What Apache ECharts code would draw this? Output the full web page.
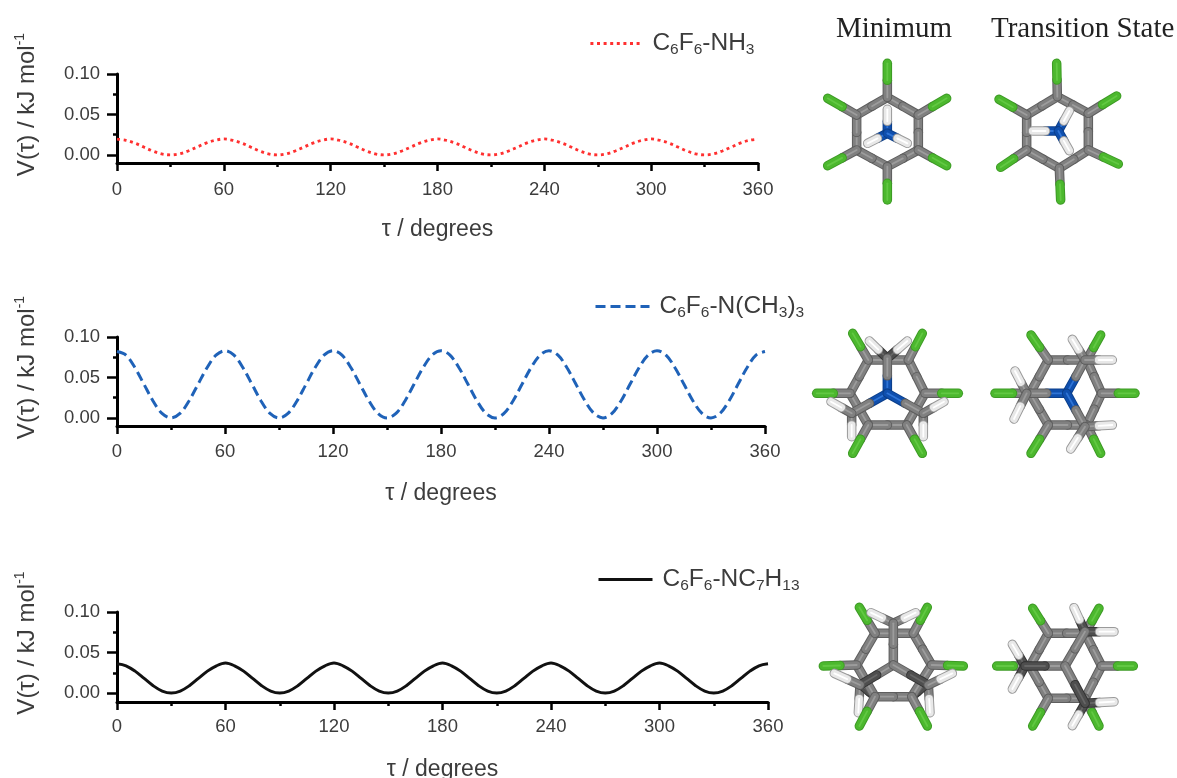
<!DOCTYPE html>
<html><head><meta charset="utf-8">
<style>html,body{margin:0;padding:0;background:#fff}#c{width:1177px;height:778px;filter:blur(0.6px)}</style>
<script src="https://cdn.jsdelivr.net/npm/echarts@6/dist/echarts.min.js"></script>
</head><body><div id="c"></div>
<script>
const torsion=[0,5,10,15,20,25,30,35,40,45,50,55,60,65,70,75,80,85,90,95,100,105,110,115,120,125,130,135,140,145,150,155,160,165,170,175,180,185,190,195,200,205,210,215,220,225,230,235,240,245,250,255,260,265,270,275,280,285,290,295,300,305,310,315,320,325,330,335,340,345,350,355,360];
const nh3=[.0195,.018,.0146,.0097,.0049,.0013,0,.0013,.0049,.0097,.0146,.018,.0197,.018,.0146,.0097,.0049,.0013,0,.0013,.0049,.0097,.0146,.018,.0197,.018,.0146,.0097,.0049,.0013,0,.0013,.0049,.0097,.0146,.018,.0197,.018,.0146,.0097,.0049,.0013,0,.0013,.0049,.0097,.0146,.018,.0197,.018,.0146,.0097,.0049,.0013,0,.0013,.0049,.0097,.0146,.018,.0197,.018,.0146,.0097,.0049,.0013,0,.0013,.0049,.0097,.0146,.018,.0195];
const nme3=[.082,.0775,.062,.0415,.021,.0055,0,.0055,.021,.0415,.062,.0775,.083,.0775,.062,.0415,.021,.0055,0,.0055,.021,.0415,.062,.0775,.083,.0775,.062,.0415,.021,.0055,0,.0055,.021,.0415,.062,.0775,.083,.0775,.062,.0415,.021,.0055,0,.0055,.021,.0415,.062,.0775,.083,.0775,.062,.0415,.021,.0055,0,.0055,.021,.0415,.062,.0775,.083,.0775,.062,.0415,.021,.0055,0,.0055,.021,.0415,.062,.0775,.082];
const nc7=[.036,.0336,.027,.018,.009,.0024,0,.0024,.009,.018,.027,.0336,.037,.0336,.027,.018,.009,.0024,0,.0024,.009,.018,.027,.0336,.037,.0336,.027,.018,.009,.0024,0,.0024,.009,.018,.027,.0336,.037,.0336,.027,.018,.009,.0024,0,.0024,.009,.018,.027,.0336,.037,.0336,.027,.018,.009,.0024,0,.0024,.009,.018,.027,.0336,.037,.0336,.027,.018,.009,.0024,0,.0024,.009,.018,.027,.0336,.036];
const xTicks=[0,60,120,180,240,300,360];
const yMajor=[0,0.05,0.10];
const yMinor=[0.025,0.075];
const xTitle='τ / degrees';
const yTitle='{a|V(τ) / kJ mol}{s|-1}';
const names=['C6F6-NH3','C6F6-N(CH3)3','C6F6-NC7H13'];
const legendText={
 'C6F6-NH3':'{a|C}{b|6}{a|F}{b|6}{a|-NH}{b|3}',
 'C6F6-N(CH3)3':'{a|C}{b|6}{a|F}{b|6}{a|-N(CH}{b|3}{a|)}{b|3}',
 'C6F6-NC7H13':'{a|C}{b|6}{a|F}{b|6}{a|-NC}{b|7}{a|H}{b|13}'
};
const values=[nh3,nme3,nc7];

const ink='#3c3c3c', font='"Liberation Sans", Arial, sans-serif';
const panels=[
 {left:117,right:1177-758,top:74,h:89,shift:28,gapX:55,margin:17,color:'#ff3030',dash:[3,3.6],w:2.8,legend:[589,31],lw:52},
 {left:117,right:1177-765,top:337,h:89,shift:28,gapX:56,margin:16,color:'#1f62b8',dash:[10,5],w:3,legend:[594,294],lw:54},
 {left:117,right:1177-768,top:612,h:90,shift:28,gapX:56,margin:15,color:'#111111',dash:null,w:3,legend:[597,567],lw:54}
];
const grid=[],xAxis=[],yAxis=[],series=[],legend=[];
panels.forEach((p,i)=>{
 grid.push({left:p.left,right:p.right,top:p.top,height:p.h,containLabel:false,outerBoundsMode:'none'});
 xAxis.push({type:'value',gridIndex:i,min:0,max:360,interval:60,
  name:xTitle,nameLocation:'middle',nameGap:p.gapX,nameTextStyle:{fontFamily:font,fontSize:23,color:ink},
  axisLine:{show:true,onZero:false,lineStyle:{color:'#000',width:3}},
  axisTick:{show:true,length:8,lineStyle:{color:'#000',width:2.5}},
  minorTick:{show:true,splitNumber:2,length:4,lineStyle:{color:'#000',width:2.5}},
  splitLine:{show:false},minorSplitLine:{show:false},
  axisLabel:{fontFamily:font,fontSize:18.5,color:ink,margin:p.margin,showMinLabel:true,showMaxLabel:true,
   customValues:xTicks}});
 const yBase={type:'value',gridIndex:i,min:p.h==90?-0.0111:-0.01,max:0.10,position:'left',splitLine:{show:false}};
 yAxis.push(Object.assign({},yBase,{
  name:yTitle,nameLocation:'middle',nameRotate:90,nameGap:78,
  nameTextStyle:{padding:[0,0,0,p.shift],rich:{
    a:{fontFamily:font,fontSize:24,color:ink,lineHeight:26,verticalAlign:'bottom'},
    s:{fontFamily:font,fontSize:14,color:ink,lineHeight:26,verticalAlign:'top'}}},
  axisLine:{show:true,onZero:false,lineStyle:{color:'#000',width:3}},
  axisTick:{show:true,length:10,lineStyle:{color:'#000',width:2.5},customValues:yMajor},
  axisLabel:{fontFamily:font,fontSize:18.5,color:ink,margin:17,customValues:yMajor,
    formatter:v=>v.toFixed(2)}}));
 yAxis.push(Object.assign({},yBase,{
  axisLine:{show:false},
  axisTick:{show:true,length:4,lineStyle:{color:'#000',width:2.5},customValues:yMinor},
  axisLabel:{show:false}}));
 series.push({type:'line',name:names[i],xAxisIndex:i,yAxisIndex:i*2,clip:false,
  data:torsion.map((t,k)=>[t,values[i][k]]),smooth:0.35,symbol:'none',
  lineStyle:{color:p.color,width:p.w,type:p.dash||'solid',cap:'butt'},itemStyle:{color:p.color}});
 legend.push({show:true,data:[names[i]],left:p.legend[0],top:p.legend[1],orient:'horizontal',
  itemWidth:p.lw,itemHeight:20,itemGap:0,padding:0,itemStyle:{opacity:0},
  lineStyle:{width:p.w,type:p.dash||'solid',color:p.color},
  formatter:n=>legendText[n],
  textStyle:{padding:[0,0,0,5],rich:{
    a:{fontFamily:font,fontSize:24.5,color:ink,lineHeight:28},
    b:{fontFamily:font,fontSize:15.5,color:ink,lineHeight:14,verticalAlign:'bottom'}}}});
});

// molecule illustrations (decorative sticks traced at 3x zoom)
const col={c:'#808080',f:'#4cb82e',n:'#0f4fae',h:'#e8e8e8',d:'#4e4e4e'};
const edge={c:'#5e5e5e',f:'#3d9a25',n:'#0c3f8a',h:'#9a9a9a',d:'#333333'};
const hi={c:'#9c9c9c',f:'#62c843',n:'#2f74d6',h:'#ffffff',d:'#666666'};
const elements=[];
let z=1;
function stick(ox,oy,a,b,ta,tb){
 const P=q=>[ox+q[0]/3,oy+q[1]/3];
 const A=P(a),B=P(b),M=[(A[0]+B[0])/2,(A[1]+B[1])/2];
 const seg=(u,v,t)=>{
  [[edge[t],9.5],[col[t],7.5],[hi[t],1.8]].forEach(s=>elements.push({type:'line',silent:true,z:z,
   shape:{x1:u[0],y1:u[1],x2:v[0],y2:v[1]},style:{stroke:s[0],lineWidth:s[1],lineCap:'round'}}));
 };
 seg(A,M,ta);seg(B,M,tb);z++;
}
function ring(ox,oy,r,f){
 r.forEach((q,i)=>stick(ox,oy,q,r[(i+1)%6],'c','c'));
 r.forEach((q,i)=>stick(ox,oy,q,f[i],'c','f'));
}
function bonds(ox,oy,list){list.forEach(b=>stick(ox,oy,[b[0],b[1]],[b[3],b[4]],b[2],b[5]));}
// NH3 minimum
ring(800,0,[[262,292],[355,345],[355,450],[262,500],[170,450],[170,345]],[[262,190],[440,295],[440,497],[262,600],[83,497],[83,295]]);
bonds(800,0,[[262,400,'n',262,328,'h'],[262,400,'n',203,430,'h'],[262,400,'n',322,430,'h']]);
// NH3 transition state
ring(800,0,[[772,290],[865,340],[865,450],[778,505],[680,450],[680,345]],[[770,190],[950,288],[955,492],[782,600],[602,502],[597,298]]);
bonds(800,0,[[775,393,'n',808,333,'h'],[775,393,'n',698,393,'h'],[775,393,'n',808,452,'h']]);
// N(CH3)3 minimum
bonds(800,310,[[155,310,'c',155,380,'h'],[370,310,'c',370,380,'h']]);
ring(800,310,[[205,150],[325,150],[375,250],[320,345],[205,345],[150,250]],[[158,70],[367,70],[475,250],[367,430],[158,430],[50,250]]);
bonds(800,310,[[262,145,'d',208,93,'h'],[262,145,'d',322,93,'h'],[262,250,'n',262,145,'c'],[262,250,'n',155,310,'c'],[262,250,'n',370,310,'c'],[155,310,'c',93,275,'h'],[370,310,'c',432,275,'h'],[155,310,'h',155,310,'h'],[370,310,'h',370,310,'h'],[262,122,'h',262,122,'h']]);
// N(CH3)3 transition state
ring(800,310,[[745,150],[860,150],[905,250],[860,345],[745,345],[690,250]],[[693,75],[902,75],[1005,250],[902,430],[693,430],[585,250]]);
bonds(800,310,[[800,250,'n',680,250,'c'],[800,250,'n',855,150,'c'],[800,250,'n',855,350,'c'],[680,250,'c',645,183,'h'],[680,250,'c',642,327,'h'],[855,150,'c',817,88,'h'],[855,150,'c',937,150,'h'],[855,350,'c',937,345,'h'],[855,350,'c',812,417,'h'],[680,250,'h',680,250,'h'],[855,150,'d',855,150,'d'],[855,350,'h',855,350,'h']]);
// NC7H13 minimum
bonds(800,590,[[180,285,'c',175,368,'h'],[385,285,'c',390,368,'h'],[225,320,'d',190,290,'d'],[335,320,'d',370,290,'d']]);
ring(800,590,[[225,130],[340,130],[395,225],[335,320],[225,320],[170,225]],[[178,52],[382,52],[490,228],[382,408],[178,408],[70,228]]);
bonds(800,590,[[280,100,'c',213,68,'h'],[280,100,'c',347,68,'h'],[280,225,'c',280,100,'c'],[280,225,'c',180,285,'d'],[280,225,'c',385,285,'d'],[180,285,'c',103,250,'h'],[385,285,'c',457,250,'h'],[280,225,'h',280,225,'h']]);
// NC7H13 transition state
ring(800,590,[[745,130],[855,130],[905,228],[855,325],[745,325],[690,228]],[[698,55],[897,55],[1000,228],[897,408],[698,408],[590,228]]);
bonds(800,590,[[855,125,'d',822,53,'h'],[855,125,'d',942,125,'h'],[855,340,'d',942,335,'h'],[855,340,'d',817,407,'h'],[675,228,'d',637,163,'h'],[675,228,'d',637,297,'h'],[795,228,'c',675,228,'d'],[795,228,'c',855,125,'c'],[795,228,'c',855,340,'d'],[795,228,'h',795,228,'h']]);

const titles=[
 {text:'Minimum',left:836,top:15},
 {text:'Transition State',left:991,top:15}
].map(t=>Object.assign(t,{padding:0,textStyle:{fontFamily:'"Liberation Serif", "Times New Roman", serif',fontSize:29,fontWeight:'normal',color:'#222'}}));

const chart=echarts.init(document.getElementById('c'),null,{renderer:'canvas'});
chart.setOption({animation:false,backgroundColor:'#fff',title:titles,legend,grid,xAxis,yAxis,series,graphic:{elements}});
</script></body></html>
